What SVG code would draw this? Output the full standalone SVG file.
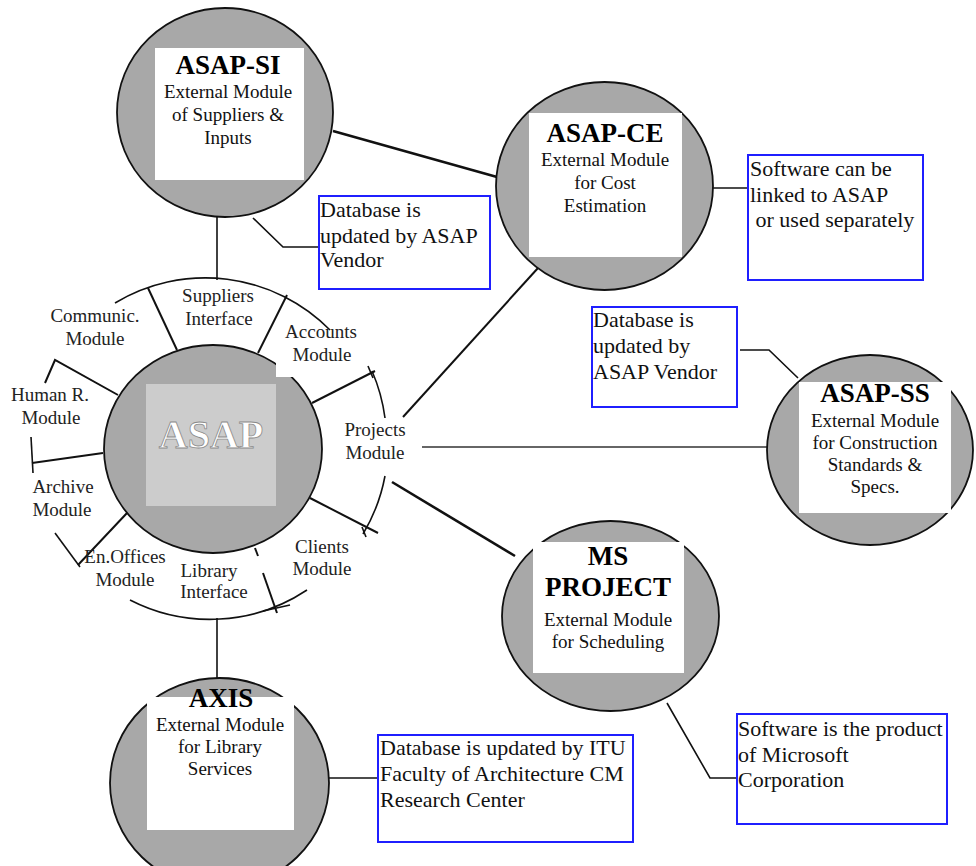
<svg xmlns="http://www.w3.org/2000/svg" width="976" height="866" viewBox="0 0 976 866">
<style>
.bg{fill:#ffffff}
.circ{fill:#a8a8a8;stroke:#111;stroke-width:1.8}
.card{fill:#ffffff}
.nt{font-family:"Liberation Serif","Times New Roman",serif;font-size:19px;fill:#111;text-anchor:middle}
.tt{font-weight:bold;font-size:27px;fill:#000}
.lbl{font-family:"Liberation Serif","Times New Roman",serif;font-size:19px;fill:#222;text-anchor:middle}
.note{fill:#ffffff;stroke:#1f1fff;stroke-width:2}
.ntxt{font-family:"Liberation Serif","Times New Roman",serif;font-size:22px;fill:#111}
.ln{fill:none;stroke:#111;stroke-width:2}
.thin{fill:none;stroke:#111;stroke-width:1.6}
</style>
<rect class="bg" x="0" y="0" width="976" height="866"/>

<g id="connectors">
  <line class="ln" x1="333" y1="131" x2="497" y2="177" style="stroke-width:2.6"/>
  <line class="ln" x1="538" y1="268" x2="403" y2="417"/>
  <line class="thin" x1="422" y1="447" x2="767" y2="447" style="stroke:#333"/>
  <line class="ln" x1="392" y1="482" x2="515" y2="556" style="stroke-width:2.6"/>
  <line class="thin" x1="217" y1="217" x2="217" y2="280"/>
  <line class="thin" x1="217" y1="618" x2="217" y2="678"/>
  <polyline class="thin" points="253,218 283,247 318,247"/>
  <line class="thin" x1="711" y1="188" x2="753" y2="188"/>
  <polyline class="thin" points="740,350 769,350 798,378"/>
  <polyline class="thin" points="667,703 710,778 738,778"/>
  <line class="thin" x1="329" y1="778" x2="382" y2="778"/>
</g>

<g id="ring">
  <path class="thin" d="M115,303 A175,175 0 0 1 330,330"/>
  <path class="thin" d="M372,371 A175,175 0 0 1 385,418"/>
  <path class="thin" d="M385,476 A175,175 0 0 1 363,534"/>
  <path class="thin" d="M307,590 A175,175 0 0 1 130,600"/>
  <polyline class="ln" points="118,395 55,360 45,383"/>
  <line class="ln" x1="103" y1="453" x2="32" y2="463"/>
  <line class="thin" x1="31" y1="437" x2="33" y2="473"/>
  <line class="ln" x1="127" y1="513" x2="78" y2="565"/>
  <line class="thin" x1="55" y1="533" x2="80" y2="567"/>
  <line class="ln" x1="177" y1="350" x2="148" y2="288"/>
  <line class="ln" x1="258" y1="353" x2="287" y2="295"/>
  <line class="ln" x1="312" y1="403" x2="375" y2="371"/>
  <line class="thin" x1="368" y1="366" x2="373" y2="378"/>
  <line class="ln" x1="310" y1="498" x2="378" y2="533"/>
  <line class="thin" x1="362" y1="527" x2="366" y2="537"/>
  <line class="ln" x1="255" y1="548" x2="258" y2="556"/>
  <line class="ln" x1="263" y1="573" x2="277" y2="613"/>
  <line class="thin" x1="263" y1="611" x2="290" y2="605"/>
</g>

<g id="node-asap">
  <ellipse class="circ" cx="213" cy="449" rx="109" ry="104"/>
  <rect x="146" y="384" width="130" height="122" fill="#cccccc"/>
  <rect x="276" y="345" width="40" height="32" fill="#ffffff"/>
  <text x="211" y="448" font-family="'Liberation Serif','Times New Roman',serif" font-weight="bold" font-size="40" fill="#ffffff" stroke="#8a8a8a" stroke-width="0.8" text-anchor="middle">ASAP</text>
</g>

<g id="mod-suppliers"><text class="lbl" x="218" y="302">Suppliers</text><text class="lbl" x="219" y="325">Interface</text></g>
<g id="mod-communic"><text class="lbl" x="95" y="322">Communic.</text><text class="lbl" x="95" y="345">Module</text></g>
<g id="mod-accounts"><text class="lbl" x="321" y="338">Accounts</text><text class="lbl" x="322" y="361">Module</text></g>
<g id="mod-human"><text class="lbl" x="50" y="401">Human R.</text><text class="lbl" x="51" y="424">Module</text></g>
<g id="mod-projects"><text class="lbl" x="375" y="436">Projects</text><text class="lbl" x="375" y="459">Module</text></g>
<g id="mod-archive"><text class="lbl" x="63" y="493">Archive</text><text class="lbl" x="62" y="516">Module</text></g>
<g id="mod-enoffices"><text class="lbl" x="125" y="563">En.Offices</text><text class="lbl" x="125" y="586">Module</text></g>
<g id="mod-library"><text class="lbl" x="209" y="577">Library</text><text class="lbl" x="214" y="598">Interface</text></g>
<g id="mod-clients"><text class="lbl" x="322" y="553">Clients</text><text class="lbl" x="322" y="575">Module</text></g>

<g id="node-asap-si">
  <ellipse class="circ" cx="225" cy="112.5" rx="108" ry="104.5"/>
  <rect class="card" x="155" y="48" width="149" height="132"/>
  <text class="nt"><tspan class="tt" x="228" y="74">ASAP-SI</tspan><tspan x="228" y="98">External Module</tspan><tspan x="228" y="121">of Suppliers &amp;</tspan><tspan x="228" y="144">Inputs</tspan></text>
</g>

<g id="node-asap-ce">
  <ellipse class="circ" cx="604.5" cy="186" rx="108.5" ry="104"/>
  <rect class="card" x="529" y="113" width="153" height="144"/>
  <text class="nt"><tspan class="tt" x="605" y="142">ASAP-CE</tspan><tspan x="605" y="166">External Module</tspan><tspan x="605" y="189">for Cost</tspan><tspan x="605" y="212">Estimation</tspan></text>
</g>

<g id="node-asap-ss">
  <ellipse class="circ" cx="870" cy="450" rx="103" ry="95"/>
  <rect class="card" x="799" y="382" width="152" height="131"/>
  <text class="nt"><tspan class="tt" x="875" y="402">ASAP-SS</tspan><tspan x="875" y="427">External Module</tspan><tspan x="875" y="449">for Construction</tspan><tspan x="875" y="471">Standards &amp;</tspan><tspan x="875" y="493">Specs.</tspan></text>
</g>

<g id="node-msproject">
  <ellipse class="circ" cx="610.5" cy="616" rx="108.5" ry="95"/>
  <rect class="card" x="533" y="542" width="151" height="131"/>
  <text class="nt"><tspan class="tt" x="608" y="565">MS</tspan><tspan class="tt" x="608" y="596">PROJECT</tspan><tspan x="608" y="626">External Module</tspan><tspan x="608" y="648">for Scheduling</tspan></text>
</g>

<g id="node-axis">
  <ellipse class="circ" cx="219.5" cy="783" rx="109.5" ry="105"/>
  <rect class="card" x="147" y="697" width="147" height="133"/>
  <text class="nt"><tspan class="tt" x="221" y="707">AXIS</tspan><tspan x="220" y="731">External Module</tspan><tspan x="220" y="753">for Library</tspan><tspan x="220" y="775">Services</tspan></text>
</g>

<g id="note-si">
  <rect class="note" x="319" y="196" width="171" height="93"/>
  <text class="ntxt" x="320" y="217">Database is</text>
  <text class="ntxt" x="320" y="243">updated by ASAP</text>
  <text class="ntxt" x="320" y="267">Vendor</text>
</g>
<g id="note-ce">
  <rect class="note" x="748" y="155" width="175" height="125"/>
  <text class="ntxt" x="750" y="176">Software can be</text>
  <text class="ntxt" x="750" y="202">linked to ASAP</text>
  <text class="ntxt" x="750" y="227" xml:space="preserve"> or used separately</text>
</g>
<g id="note-ss">
  <rect class="note" x="592" y="307" width="145" height="100"/>
  <text class="ntxt" x="593" y="327">Database is</text>
  <text class="ntxt" x="593" y="353">updated by</text>
  <text class="ntxt" x="593" y="379">ASAP Vendor</text>
</g>
<g id="note-ms">
  <rect class="note" x="737" y="714" width="210" height="110"/>
  <text class="ntxt" x="738" y="736">Software is the product</text>
  <text class="ntxt" x="738" y="762">of Microsoft</text>
  <text class="ntxt" x="738" y="787">Corporation</text>
</g>
<g id="note-axis">
  <rect class="note" x="378" y="735" width="255" height="107"/>
  <text class="ntxt" x="380" y="755">Database is updated by ITU</text>
  <text class="ntxt" x="380" y="781">Faculty of Architecture CM</text>
  <text class="ntxt" x="380" y="807">Research Center</text>
</g>
</svg>
